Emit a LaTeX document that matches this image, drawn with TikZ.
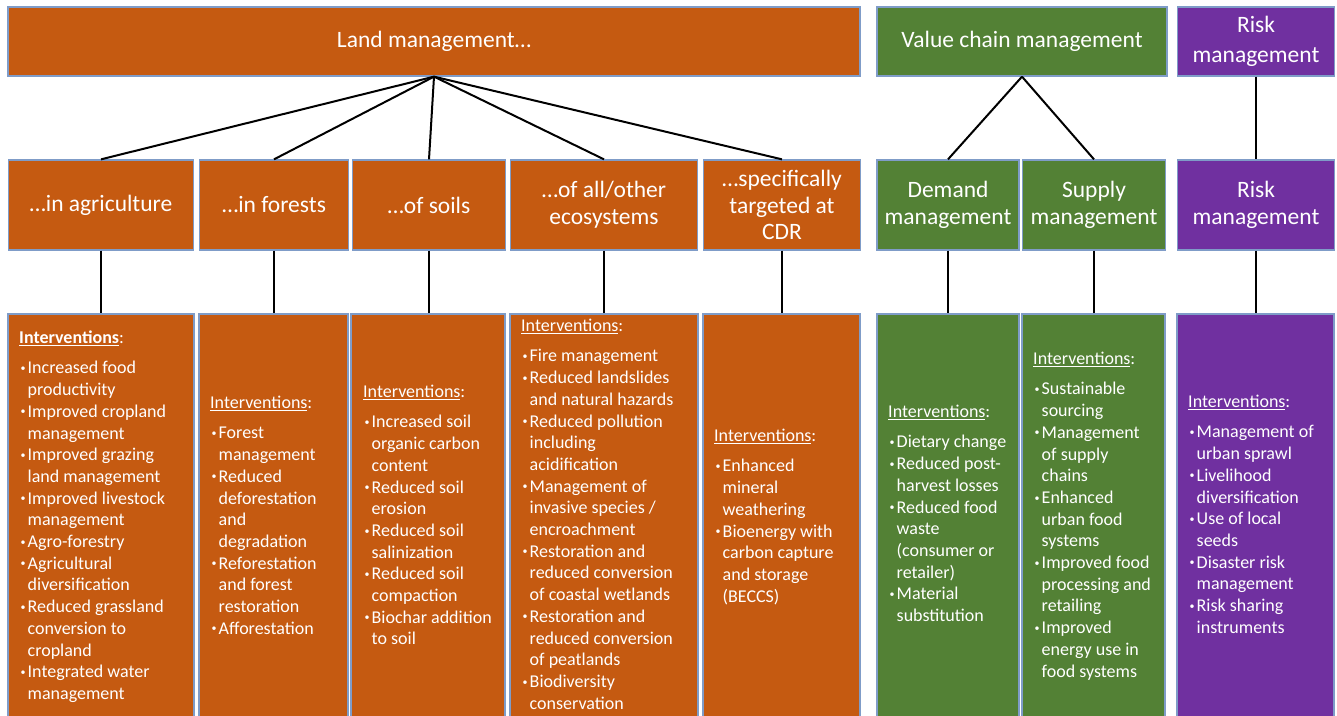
\documentclass[tikz,border=0pt]{standalone}
\usepackage{fontspec}
\setmainfont{Carlito}
\definecolor{orng}{HTML}{C55A11}
\definecolor{grn}{HTML}{538135}
\definecolor{prpl}{HTML}{7030A0}
\definecolor{edge}{HTML}{7F9CC8}
\newcommand{\bul}{\makebox[8.5pt][l]{\hspace{1.5pt}\raisebox{2.4pt}{\fontsize{10}{10}\selectfont •}}}
\newcommand{\ind}{\hspace*{8.5pt}}
\newcommand{\hdr}{\rule{0pt}{15pt}\underline{Interventions}:\\[9pt]}
\begin{document}
\begin{tikzpicture}[x=1pt,y=-1pt,
  box/.style={draw=edge,line width=1.3pt,inner sep=0pt,text=white},
  head/.style={box,font=\fontsize{23.5}{30}\selectfont,align=center},
  mid/.style={box,font=\fontsize{23.5}{26.7}\selectfont,align=center},
  body/.style={anchor=north west,inner sep=0pt,text=white,align=left,font=\fontsize{18}{21.7}\selectfont},
  link/.style={line width=2pt,black}]
\useasboundingbox (0,0) rectangle (1337,715);
\clip (0,0) rectangle (1337,715);
% top row
\node[head,fill=orng,minimum width=852pt,minimum height=69pt] (land) at (434,41.5) {Land management…};
\node[head,fill=grn,minimum width=290pt,minimum height=69pt] (vcm) at (1022,41.5) {Value chain management};
\node[head,fill=prpl,minimum width=157pt,minimum height=69pt] (riskT) at (1256,41.5) {Risk\\management};
% middle row
\node[mid,fill=orng,minimum width=185pt,minimum height=90pt] (agr) at (101,205) {…in agriculture};
\node[mid,fill=orng,minimum width=149pt,minimum height=90pt] (for) at (274,205) {…in forests};
\node[mid,fill=orng,minimum width=153pt,minimum height=90pt] (soil) at (429,205) {…of soils};
\node[mid,fill=orng,minimum width=187pt,minimum height=90pt] (oth) at (604,205) {…of all/other\\ecosystems};
\node[mid,fill=orng,minimum width=157pt,minimum height=90pt] (cdr) at (782,205) {…specifically\\targeted at\\CDR};
\node[mid,fill=grn,minimum width=142pt,minimum height=90pt] (dem) at (948,205) {Demand\\management};
\node[mid,fill=grn,minimum width=143pt,minimum height=90pt] (sup) at (1094,205) {Supply\\management};
\node[mid,fill=prpl,minimum width=157pt,minimum height=90pt] (riskM) at (1256,205) {Risk\\management};
% bottom row boxes
\node[box,fill=orng,minimum width=186pt,minimum height=420pt] (agrB) at (101,524) {};
\node[box,fill=orng,minimum width=149pt,minimum height=420pt] (forB) at (273.5,524) {};
\node[box,fill=orng,minimum width=154pt,minimum height=420pt] (soilB) at (428,524) {};
\node[box,fill=orng,minimum width=188pt,minimum height=420pt] (othB) at (604,524) {};
\node[box,fill=orng,minimum width=157pt,minimum height=420pt] (cdrB) at (781.5,524) {};
\node[box,fill=grn,minimum width=142pt,minimum height=420pt] (demB) at (948,524) {};
\node[box,fill=grn,minimum width=143pt,minimum height=420pt] (supB) at (1093.5,524) {};
\node[box,fill=prpl,minimum width=157pt,minimum height=420pt] (riskB) at (1255.5,524) {};
% connectors
\foreach \n in {agr,for,soil,oth,cdr} \draw[link] (land.south) -- (\n.north);
\foreach \n in {dem,sup} \draw[link] (vcm.south) -- (\n.north);
\draw[link] (riskT.south) -- (riskM.north);
\foreach \n/\m in {agr/agrB,for/forB,soil/soilB,oth/othB,cdr/cdrB,dem/demB,sup/supB,riskM/riskB} \draw[link] (\n.south) -- (\n.south |- \m.north);
% body texts (node top = header baseline - 15)
\node[body] (tagr) at (19,328) {\rule{0pt}{15pt}\textbf{\underline{Interventions}}:\\[9pt]
\bul Increased food\\\ind productivity\\
\bul Improved cropland\\\ind management\\
\bul Improved grazing\\\ind land management\\
\bul Improved livestock\\\ind management\\
\bul Agro-forestry\\
\bul Agricultural\\\ind diversification\\
\bul Reduced grassland\\\ind conversion to\\\ind cropland\\
\bul Integrated water\\\ind management};
\node[body] (tfor) at (210,393) {\hdr
\bul Forest\\\ind management\\
\bul Reduced\\\ind deforestation\\\ind and\\\ind degradation\\
\bul Reforestation\\\ind and forest\\\ind restoration\\
\bul Afforestation};
\node[body] (tsoil) at (363,382) {\hdr
\bul Increased soil\\\ind organic carbon\\\ind content\\
\bul Reduced soil\\\ind erosion\\
\bul Reduced soil\\\ind salinization\\
\bul Reduced soil\\\ind compaction\\
\bul Biochar addition\\\ind to soil};
\node[body] (toth) at (521,316) {\hdr
\bul Fire management\\
\bul Reduced landslides\\\ind and natural hazards\\
\bul Reduced pollution\\\ind including\\\ind acidification\\
\bul Management of\\\ind invasive species /\\\ind encroachment\\
\bul Restoration and\\\ind reduced conversion\\\ind of coastal wetlands\\
\bul Restoration and\\\ind reduced conversion\\\ind of peatlands\\
\bul Biodiversity\\\ind conservation};
\node[body] (tcdr) at (714,426) {\hdr
\bul Enhanced\\\ind mineral\\\ind weathering\\
\bul Bioenergy with\\\ind carbon capture\\\ind and storage\\\ind (BECCS)};
\node[body] (tdem) at (888,402) {\hdr
\bul Dietary change\\
\bul Reduced post-\\\ind harvest losses\\
\bul Reduced food\\\ind waste\\\ind (consumer or\\\ind retailer)\\
\bul Material\\\ind substitution};
\node[body] (tsup) at (1033,349) {\hdr
\bul Sustainable\\\ind sourcing\\
\bul Management\\\ind of supply\\\ind chains\\
\bul Enhanced\\\ind urban food\\\ind systems\\
\bul Improved food\\\ind processing and\\\ind retailing\\
\bul Improved\\\ind energy use in\\\ind food systems};
\node[body] (trisk) at (1188,392) {\hdr
\bul Management of\\\ind urban sprawl\\
\bul Livelihood\\\ind diversification\\
\bul Use of local\\\ind seeds\\
\bul Disaster risk\\\ind management\\
\bul Risk sharing\\\ind instruments};
\end{tikzpicture}
\end{document}
